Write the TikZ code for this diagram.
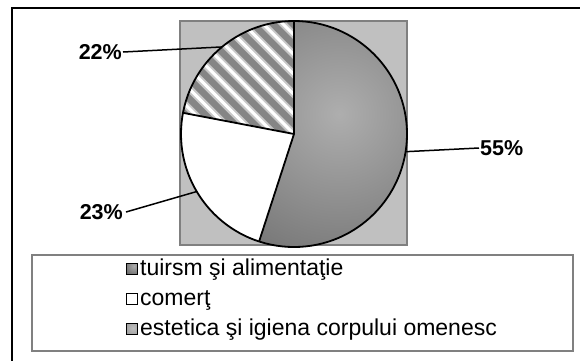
\documentclass[tikz,border=0pt]{standalone}
\usepackage{fontspec}
\setmainfont{Liberation Sans}
\definecolor{plotgray}{HTML}{C0C0C0}
\definecolor{framegray}{HTML}{808080}
\definecolor{hatchgray}{HTML}{858585}
\definecolor{shadelight}{HTML}{AEAEAE}
\definecolor{shadedark}{HTML}{4E4E4E}
\tikzset{
  slice/.style={draw=black, line width=1.8pt, line join=round},
  leader/.style={draw=black, line width=1.5pt},
  pct/.style={font=\fontsize{21.5}{25}\selectfont\bfseries, inner sep=0pt},
  legtext/.style={font=\fontsize{23}{26}\selectfont, inner sep=0pt, anchor=west},
  legkey/.style={draw=black, line width=1pt, minimum size=11pt, inner sep=0pt}
}
\begin{document}
\begin{tikzpicture}[x=1pt,y=-1pt]
\useasboundingbox (0,0) rectangle (580,360);
\fill[white] (0,0) rectangle (580,360);
% outer frame (partly cropped)
\begin{scope}
\clip (0,0) rectangle (580,360);
\draw[black, line width=2.5pt] (12,370) -- (12,8) -- (590,8);
\end{scope}
% plot area
\fill[plotgray, draw=framegray, line width=2pt] (180,21) rectangle (407,245);
% pie
\begin{scope}[shift={(294,134)}, yscale=-1]
  % 55% slice
  \begin{scope}
    \clip (0,0) -- (90:113) arc[start angle=90, end angle=-108, radius=113] -- cycle;
    \shade[inner color=shadelight, outer color=shadedark] (45,20) circle (270);
  \end{scope}
  % 23% slice
  \fill[white] (0,0) -- (-108:113) arc[start angle=-108, end angle=-190.8, radius=113] -- cycle;
  % 22% slice
  \begin{scope}
    \clip (0,0) -- (169.2:113) arc[start angle=169.2, end angle=90, radius=113] -- cycle;
    \fill[hatchgray] (-130,-20) rectangle (20,130);
    \foreach \c in {-198,-178.2,...,220} {
      \draw[white!55!hatchgray, line width=7pt] (\c+160,-160) -- (\c-160,160);
      \draw[white, line width=3pt] (\c+160,-160) -- (\c-160,160);
    }
  \end{scope}
  % outlines
  \draw[slice] (0,0) -- (90:113);
  \draw[slice] (0,0) -- (-108:113);
  \draw[slice] (0,0) -- (169.2:113);
  \draw[slice] (0,0) circle (113);
  \coordinate (p55) at (-9:113);
  \coordinate (p23) at (-149.4:113);
  \coordinate (p22) at (129.6:113);
\end{scope}
% labels
\node[pct, anchor=west] (l55) at (480,148) {55\%};
\node[pct, anchor=east] (l22) at (122,52) {22\%};
\node[pct, anchor=east] (l23) at (123,212) {23\%};
\draw[leader] (p55) -- ([xshift=-1pt]l55.west);
\draw[leader] (p22) -- ([xshift=1pt]l22.east);
\draw[leader] (p23) -- ([xshift=3pt]l23.east);
% legend
\draw[framegray, line width=1.6pt] (32,255) rectangle (573,351);
\begin{scope}
  \clip (126.5,263.5) rectangle (137.5,274.5);
  \shade[inner color=shadelight, outer color=shadedark] (134,266) circle (14);
\end{scope}
\node[legkey] (k1) at (132,269) {};
\node[legkey, fill=white] (k2) at (132,299) {};
\begin{scope}
  \clip (126.5,323.5) rectangle (137.5,334.5);
  \shade[inner color=shadelight!80!white, outer color=hatchgray] (133,328) circle (14);
\end{scope}
\node[legkey] (k3) at (132,329) {};
\node[legtext] (t1) at (140,270) {tuirsm şi alimentaţie};
\node[legtext] (t2) at (140,300) {comerţ};
\node[legtext] (t3) at (140,330) {estetica şi igiena corpului omenesc};
\end{tikzpicture}
\end{document}
